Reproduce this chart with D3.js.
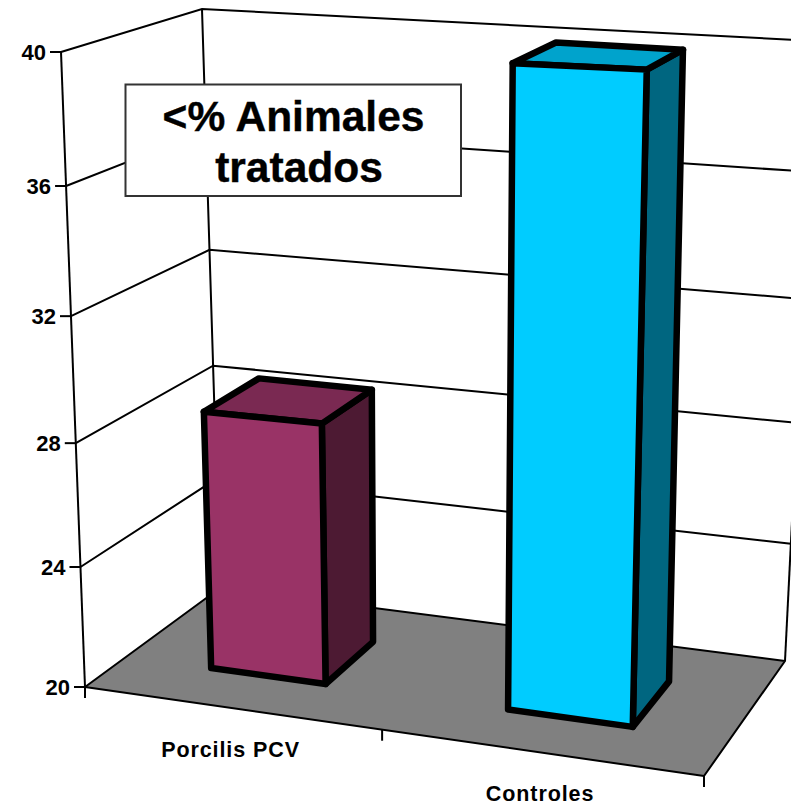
<!DOCTYPE html>
<html>
<head>
<meta charset="utf-8">
<script src="https://cdn.jsdelivr.net/npm/d3@7/dist/d3.min.js"></script>
<style>
html,body{margin:0;padding:0;background:#fff}
svg{display:block}
text{font-family:"Liberation Sans",Arial,sans-serif;font-weight:bold;fill:#000}
</style>
</head>
<body>
<div id="chart"></div>
<script>
// Data
const categories = ["Porcilis PCV", "Controles"];
const values = [28.5, 39.8];
const tickValues = [20, 24, 28, 32, 36, 40];
const barColors = ["#993366", "#00CCFF"];
const barTopColors = ["#7A2952", "#00A3CC"];
const barSideColors = ["#4D1A33", "#006680"];
const noteLines = ["<% Animales", "tratados"];

// Projection layout (oblique 3D chart box)
const W = 791, H = 806;
const floorCorners = {fl:[85,687], fr:[704,776], bl:[220,588], br:[785,661]};
const wallTop = {fl:[61,52], bl:[202,9], br:[816,41]};
const barPlaneTop = {fl:[53,55], fr:[727,82], bl:[213,-2], br:[803,35]};
const barFoot = [{u0:0.14,u1:0.33,v0:0.31,v1:0.715},{u0:0.633,u1:0.84,v0:0.31,v1:0.715}];

const lerp = (a,b,t)=>[a[0]+(b[0]-a[0])*t, a[1]+(b[1]-a[1])*t];
// height fraction of each tick along the box's vertical edges (foreshortened by perspective)
const h = d3.scaleLinear().domain(tickValues).range([0,0.189,0.384,0.584,0.789,1]);
const bilinear = (q,u,v)=>lerp(lerp(q.fl,q.fr,u),lerp(q.bl,q.br,u),v);
const barPoint = (u,v,val)=>lerp(bilinear(floorCorners,u,v),bilinear(barPlaneTop,u,v),h(val));
const wallPoint = (c,val)=>lerp(floorCorners[c],wallTop[c],h(val));
const line = d3.line();

const svg = d3.select("#chart").append("svg").attr("width",W).attr("height",H).attr("viewBox",`0 0 ${W} ${H}`);

// Walls: grid lines
const gridG = svg.append("g").attr("fill","none").attr("stroke","#000").attr("stroke-width",2);
gridG.selectAll("path.grid").data(tickValues.slice(1)).join("path").attr("class","grid")
  .attr("d",d=>line([wallPoint("fl",d),wallPoint("bl",d),wallPoint("br",d)]));
gridG.selectAll("path.edge").data(["fl","bl","br"]).join("path").attr("class","edge")
  .attr("d",c=>line([floorCorners[c],wallTop[c]]));

// Floor
svg.append("path")
  .attr("d",line([floorCorners.fl,floorCorners.fr,floorCorners.br,floorCorners.bl])+"Z")
  .attr("fill","#808080").attr("stroke","#000").attr("stroke-width",2).attr("stroke-linejoin","round");

// Left axis ticks and labels
const axisG = svg.append("g");
axisG.selectAll("line").data(tickValues).join("line")
  .attr("x1",d=>wallPoint("fl",d)[0]-11).attr("x2",d=>wallPoint("fl",d)[0])
  .attr("y1",d=>wallPoint("fl",d)[1]).attr("y2",d=>wallPoint("fl",d)[1])
  .attr("stroke","#000").attr("stroke-width",2);
axisG.selectAll("text").data(tickValues).join("text")
  .attr("x",d=>wallPoint("fl",d)[0]-15).attr("y",d=>wallPoint("fl",d)[1]+8)
  .attr("text-anchor","end").attr("font-size",22).text(d=>d);

// Category tick marks and labels along front edge
const catEdges = [0,0.48,1];
const catMid = i=>(catEdges[i]+catEdges[i+1])/2;
const frontPoint = u=>lerp(floorCorners.fl,floorCorners.fr,u);
svg.append("g").selectAll("line").data(catEdges).join("line")
  .attr("x1",u=>frontPoint(u)[0]).attr("x2",u=>frontPoint(u)[0])
  .attr("y1",u=>frontPoint(u)[1]).attr("y2",u=>frontPoint(u)[1]+11)
  .attr("stroke","#000").attr("stroke-width",2);
svg.append("g").selectAll("text").data(categories).join("text")
  .attr("x",(c,i)=>frontPoint(catMid(i))[0]-3)
  .attr("y",(c,i)=>frontPoint(catMid(i))[1]+48.5)
  .attr("text-anchor","middle").attr("font-size",21.5).attr("letter-spacing",0.9).text(c=>c);

// Bars
const bars = svg.append("g").selectAll("g").data(values).join("g")
  .attr("stroke","#000").attr("stroke-width",6.5).attr("stroke-linejoin","round");
bars.append("path").attr("fill",(d,i)=>barSideColors[i]).attr("d",(d,i)=>{const f=barFoot[i];
  return line([barPoint(f.u1,f.v0,20),barPoint(f.u1,f.v1,20),barPoint(f.u1,f.v1,d),barPoint(f.u1,f.v0,d)])+"Z";});
bars.append("path").attr("fill",(d,i)=>barTopColors[i]).attr("d",(d,i)=>{const f=barFoot[i];
  return line([barPoint(f.u0,f.v0,d),barPoint(f.u1,f.v0,d),barPoint(f.u1,f.v1,d),barPoint(f.u0,f.v1,d)])+"Z";});
bars.append("path").attr("fill",(d,i)=>barColors[i]).attr("d",(d,i)=>{const f=barFoot[i];
  return line([barPoint(f.u0,f.v0,20),barPoint(f.u1,f.v0,20),barPoint(f.u1,f.v0,d),barPoint(f.u0,f.v0,d)])+"Z";});

// Note box
const note = svg.append("g");
note.append("rect").attr("x",125.5).attr("y",84.5).attr("width",335.5).attr("height",111.5)
  .attr("fill","#fff").attr("stroke","#333").attr("stroke-width",2);
note.selectAll("text").data(noteLines).join("text")
  .attr("x",(d,i)=>i===0?293.5:299).attr("y",(d,i)=>i===0?131:182)
  .attr("text-anchor","middle").attr("font-size",42.5).attr("stroke","#000").attr("stroke-width",0.4).text(d=>d);
</script>
</body>
</html>
